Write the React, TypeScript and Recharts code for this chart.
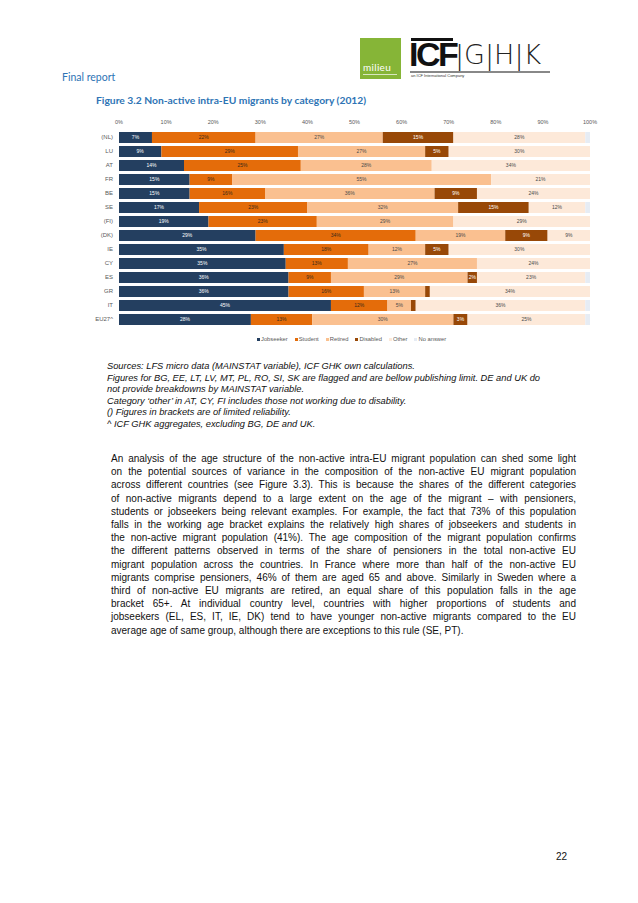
import React from "react";
import { BarChart, Bar, XAxis, YAxis, LabelList } from "recharts";

const categories = ["(NL)", "LU", "AT", "FR", "BE", "SE", "(FI)", "(DK)", "IE", "CY", "ES", "GR", "IT", "EU27^"];
const jobseeker = [7, 9, 13.8, 15, 15, 17, 19, 29, 35, 35.4, 36, 36, 45, 28];
const student = [22, 29, 24.8, 9, 16, 23, 23, 34, 18, 13.2, 9, 16, 12, 13];
const retired = [27, 27, 27.8, 55, 36, 32, 29, 19, 12, 27.4, 29, 13, 5, 30];
const disabled = [15, 5, null, null, 9, 15, null, 9, 5, null, 2, 1, 1, 3];
const other = [28, 30, 33.6, 21, 24, 12, 29, 9, 30, 24, 23, 34, 36, 25];
const noAnswer = [1, 0, 0, 0, 0, 1, 0, 0, 0, 0, 1, 0, 1, 1];
const xTicks = [0, 10, 20, 30, 40, 50, 60, 70, 80, 90, 100];

const series = [
  { key: "jobseeker", name: "Jobseeker", color: "#243F60", text: "#ffffff" },
  { key: "student", name: "Student", color: "#E46C0A", text: "#3a2a1a" },
  { key: "retired", name: "Retired", color: "#FAC090", text: "#4a4a4a" },
  { key: "disabled", name: "Disabled", color: "#984807", text: "#ffffff" },
  { key: "other", name: "Other", color: "#FDE9D9", text: "#4a4a4a" },
  { key: "noAnswer", name: "No answer", color: "#E6ECF4", text: "#4a4a4a" },
];

const data = categories.map((c, i) => ({
  cat: c,
  jobseeker: jobseeker[i],
  student: student[i],
  retired: retired[i],
  disabled: disabled[i],
  other: other[i],
  noAnswer: noAnswer[i],
}));

const paragraph = [
  "An analysis of the age structure of the non-active intra-EU migrant population can shed some light",
  "on the potential sources of variance in the composition of the non-active EU migrant population",
  "across different countries (see Figure 3.3). This is because the shares of the different categories",
  "of non-active migrants depend to a large extent on the age of the migrant \u2013 with pensioners,",
  "students or jobseekers being relevant examples. For example, the fact that 73% of this population",
  "falls in the working age bracket explains the relatively high shares of jobseekers and students in",
  "the non-active migrant population (41%). The age composition of the migrant population confirms",
  "the different patterns observed in terms of the share of pensioners in the total non-active EU",
  "migrant population across the countries. In France where more than half of the non-active EU",
  "migrants comprise pensioners, 46% of them are aged 65 and above. Similarly in Sweden where a",
  "third of non-active EU migrants are retired, an equal share of this population falls in the age",
  "bracket 65+. At individual country level, countries with higher proportions of students and",
  "jobseekers (EL, ES, IT, IE, DK) tend to have younger non-active migrants compared to the EU",
  "average age of same group, although there are exceptions to this rule (SE, PT).",
];

const sources = [
  "Sources: LFS micro data (MAINSTAT variable), ICF GHK own calculations.",
  "Figures for BG, EE, LT, LV, MT, PL, RO, SI, SK are flagged and are bellow publishing limit. DE and UK do",
  "not provide breakdowns by MAINSTAT variable.",
  "Category \u2018other\u2019 in AT, CY, FI includes those not working due to disability.",
  "() Figures in brackets are of limited reliability.",
  "^ ICF GHK aggregates, excluding BG, DE and UK.",
];

const makeLabel = (key: string, color: string) => (props: any) => {
  const { x, y, width, height, value } = props;
  if (value == null || key === "noAnswer" || value < 1.5) return null;
  return (
    <text
      x={x + width / 2}
      y={y + height / 2}
      dy={1.8}
      textAnchor="middle"
      fontSize={5}
      fill={color}
      fontFamily="Liberation Sans, Arial, sans-serif"
    >
      {Math.round(value)}%
    </text>
  );
};

const CatTick = (props: any) => {
  const { x, y, payload } = props;
  return (
    <text x={x} y={y} dy={2} textAnchor="end" fontSize={6} fill="#595959" fontFamily="Liberation Sans, Arial, sans-serif">
      {payload.value}
    </text>
  );
};

export default function App() {
  return (
    <div
      style={{
        position: "absolute",
        left: 0,
        top: 0,
        width: 638,
        height: 903,
        background: "#fff",
        fontFamily: "Liberation Sans, Arial, sans-serif",
        overflow: "hidden",
      }}
    >
      {/* Header */}
      <div style={{ position: "absolute", left: 62, top: 71, fontFamily: "Lato, sans-serif", fontSize: 10.5, color: "#2E74B5" }}>
        Final report
      </div>
      <div style={{ position: "absolute", left: 360, top: 38, width: 41, height: 41, background: "#86B537" }}>
        <div style={{ position: "absolute", left: 3, top: 23, fontSize: 10, color: "#fff", fontFamily: "Lato, sans-serif", letterSpacing: 0.3 }}>milieu</div>
        <div style={{ position: "absolute", left: 3, top: 36, width: 34, height: 1, background: "#d9e8bf" }} />
      </div>
      <div style={{ position: "absolute", left: 411, top: 38, width: 42, height: 3, background: "#111" }} />
      <div style={{ position: "absolute", left: 409, top: 34, fontSize: 34, fontWeight: 900, fontFamily: "Liberation Sans, Arial, sans-serif", letterSpacing: -2.5, color: "#111", lineHeight: "40px" }}>
        ICF
      </div>
      <div style={{ position: "absolute", left: 455, top: 39, fontSize: 27, fontFamily: "DejaVu Sans, sans-serif", fontWeight: 300, color: "#222", letterSpacing: 0, lineHeight: "32px" }}>
        |G|H|K
      </div>
      <div style={{ position: "absolute", left: 410, top: 71, width: 140, height: 1.5, background: "#888" }} />
      <div style={{ position: "absolute", left: 411, top: 73, fontSize: 4, color: "#333" }}>an ICF International Company</div>

      <div style={{ position: "absolute", left: 96, top: 94, fontFamily: "Lato, sans-serif", fontWeight: 700, fontSize: 10.3, color: "#2E74B5" }}>
        Figure 3.2 Non-active intra-EU migrants by category (2012)
      </div>

      {/* Chart */}
      <div style={{ position: "absolute", left: 60, top: 110 }}>
        <BarChart
          width={545}
          height={220}
          data={data}
          layout="vertical"
          margin={{ top: 8, right: 15, left: 0, bottom: 4 }}
          barSize={11}
        >
          <XAxis
            type="number"
            orientation="top"
            domain={[0, 100]}
            ticks={xTicks}
            tickFormatter={(v) => `${v}%`}
            axisLine={false}
            tickLine={false}
            tickSize={0}
            tickMargin={6}
            height={12}
            tick={{ fontSize: 5.5, fill: "#595959", stroke: "none" }}
            interval={0}
          />
          <YAxis
            type="category"
            dataKey="cat"
            width={59}
            axisLine={false}
            tickLine={false}
            tickSize={0}
            tickMargin={6}
            tick={<CatTick />}
            interval={0}
          />
          {series.map((s) => (
            <Bar key={s.key} dataKey={s.key} stackId="a" fill={s.color} isAnimationActive={false}>
              <LabelList dataKey={s.key} content={makeLabel(s.key, s.text)} />
            </Bar>
          ))}
        </BarChart>
      </div>

      {/* Legend */}
      <div style={{ position: "absolute", left: 257, top: 336, display: "flex", fontSize: 5.8, color: "#595959", whiteSpace: "nowrap" }}>
        {series.map((s) => (
          <div key={s.key} style={{ display: "flex", alignItems: "center", marginRight: 7 }}>
            <span style={{ display: "inline-block", width: 3, height: 3, background: s.color, marginRight: 1 }} />
            {s.name}
          </div>
        ))}
      </div>

      {/* Sources */}
      <div style={{ position: "absolute", left: 107, top: 361, fontSize: 9.3, fontStyle: "italic", lineHeight: "11.6px", color: "#111" }}>
        {sources.map((l, i) => (
          <div key={i} style={{ whiteSpace: "nowrap" }}>{l}</div>
        ))}
      </div>

      {/* Paragraph */}
      <div style={{ position: "absolute", left: 111, top: 452, width: 465, fontSize: 10, lineHeight: "13.2px", color: "#111" }}>
        {paragraph.map((l, i) => (
          <div
            key={i}
            style={{
              whiteSpace: "nowrap",
              textAlign: "justify",
              textAlignLast: i === paragraph.length - 1 ? "left" : "justify",
            }}
          >
            {l}
          </div>
        ))}
      </div>

      <div style={{ position: "absolute", left: 556, top: 851, fontSize: 10, color: "#111" }}>22</div>
    </div>
  );
}
